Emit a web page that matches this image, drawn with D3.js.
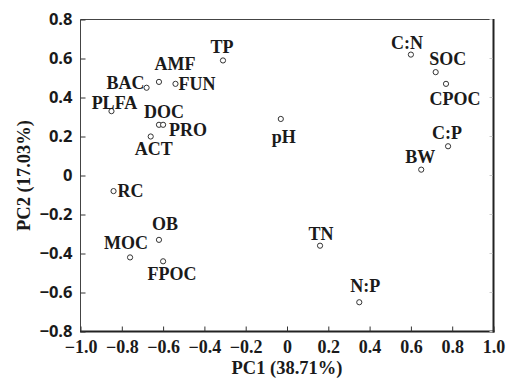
<!DOCTYPE html>
<html><head><meta charset="utf-8">
<script src="https://cdn.jsdelivr.net/npm/d3@7"></script>
<style>
html,body{margin:0;padding:0;background:#fff;}
svg{display:block;}
</style></head>
<body>
<svg id="chart" width="513" height="380"></svg>
<script>
// ---- data ----
const variables = ["TP","AMF","BAC","FUN","PLFA","DOC","PRO","ACT","pH","C:N","SOC","CPOC","C:P","BW","RC","OB","MOC","FPOC","TN","N:P"];
const pc1 = [-0.31,-0.62,-0.68,-0.54,-0.85,-0.62,-0.60,-0.66,-0.03,0.60,0.72,0.77,0.78,0.65,-0.84,-0.62,-0.76,-0.60,0.16,0.35];
const pc2 = [0.59,0.48,0.45,0.47,0.33,0.26,0.26,0.20,0.29,0.62,0.53,0.47,0.15,0.03,-0.08,-0.33,-0.42,-0.44,-0.36,-0.65];
const xTicks = [-1.0,-0.8,-0.6,-0.4,-0.2,0,0.2,0.4,0.6,0.8,1.0];
const xTickLabels = ["\u22121.0","\u22120.8","\u22120.6","\u22120.4","\u22120.2","0","0.2","0.4","0.6","0.8","1.0"];
const yTicks = [0.8,0.6,0.4,0.2,0,-0.2,-0.4,-0.6,-0.8];
const yTickLabels = ["0.8","0.6","0.4","0.2","0","\u22120.2","\u22120.4","\u22120.6","\u22120.8"];
const xTitle = "PC1 (38.71%)";
const yTitle = "PC2 (17.03%)";

// ---- label placement (layout only): [dx, dy, anchor] relative to point ----
const labelPlace = {
  "TP":[-1,-13,"middle"], "AMF":[16,-18,"middle"], "BAC":[-2,-5,"end"], "FUN":[3,0,"start"],
  "PLFA":[3,-8,"middle"], "DOC":[5,-13,"middle"], "PRO":[6,5,"start"], "ACT":[3,13,"middle"],
  "pH":[3,18,"middle"], "C:N":[-4,-12,"middle"], "SOC":[12,-13,"middle"], "CPOC":[9,15,"middle"],
  "C:P":[-1,-13,"middle"], "BW":[-1,-13,"middle"], "RC":[4,0,"start"], "OB":[6,-15.5,"middle"],
  "MOC":[-4,-14,"middle"], "FPOC":[9,13,"middle"], "TN":[1,-12,"middle"], "N:P":[6,-16,"middle"]
};

const svg = d3.select("#chart");
const L = 80.5, R = 493.5, T = 19.5, B = 331.5;
const x = d3.scaleLinear().domain([-1,1]).range([L,R]);
const y = d3.scaleLinear().domain([-0.8,0.8]).range([B,T]);

const serif = "'Liberation Serif', 'Times New Roman', serif";
const sans = "'Open Sans', 'Noto Sans', sans-serif";
const ink = "#1a1a1a";

// frame: top/left thin, right/bottom heavier
svg.append("line").attr("x1",L).attr("x2",R).attr("y1",T).attr("y2",T).attr("stroke","#444").attr("stroke-width",1);
svg.append("line").attr("x1",L).attr("x2",L).attr("y1",T).attr("y2",B).attr("stroke","#444").attr("stroke-width",1);
svg.append("line").attr("x1",R).attr("x2",R).attr("y1",T-0.5).attr("y2",B+1).attr("stroke","#222").attr("stroke-width",2);
svg.append("line").attr("x1",L-0.5).attr("x2",R+1).attr("y1",B).attr("y2",B).attr("stroke","#222").attr("stroke-width",2);

// axes with inward ticks
const xAxis = d3.axisBottom(x).tickValues(xTicks).tickSize(-5).tickPadding(9)
  .tickFormat((d,i)=>xTickLabels[i]);
const gx = svg.append("g").attr("transform",`translate(0,${B})`).call(xAxis);
gx.select(".domain").remove();
gx.selectAll(".tick line").attr("stroke","#333").attr("stroke-width",1);
gx.selectAll(".tick text").attr("fill",ink).style("font-family",serif).style("font-weight","bold").style("font-size","18px");

const yAxis = d3.axisLeft(y).tickValues(yTicks).tickSize(-5).tickPadding(8)
  .tickFormat((d,i)=>yTickLabels[i]);
const gy = svg.append("g").attr("transform",`translate(${L},0)`).call(yAxis);
gy.select(".domain").remove();
gy.selectAll(".tick line").attr("stroke","#333").attr("stroke-width",1);
gy.selectAll(".tick text").attr("fill",ink).style("font-family",sans).style("font-weight","bold").style("font-size","16.5px");

// faint right ticks
svg.append("g").selectAll("line").data(yTicks).join("line")
  .attr("x1",R-1).attr("x2",R-4).attr("y1",d=>y(d)).attr("y2",d=>y(d))
  .attr("stroke","#ccc").attr("stroke-width",1);

// titles
svg.append("text").attr("x",(L+R)/2).attr("y",374).attr("text-anchor","middle")
  .style("font-family",serif).style("font-weight","bold").style("font-size","18.5px").attr("fill",ink).text(xTitle);
svg.append("text").attr("transform",`translate(30,${(T+B)/2}) rotate(-90)`).attr("text-anchor","middle")
  .style("font-family",serif).style("font-weight","bold").style("font-size","18.5px").attr("fill",ink).text(yTitle);

// points
const pts = variables.map((v,i)=>({name:v, x:pc1[i], y:pc2[i]}));
svg.append("g").selectAll("circle").data(pts).join("circle")
  .attr("cx",d=>x(d.x)).attr("cy",d=>y(d.y)).attr("r",2.6)
  .attr("fill","#fff").attr("stroke","#333").attr("stroke-width",1);

svg.append("g").selectAll("text").data(pts).join("text")
  .attr("x",d=>x(d.x)+labelPlace[d.name][0])
  .attr("y",d=>y(d.y)+labelPlace[d.name][1])
  .attr("dy","0.33em")
  .attr("text-anchor",d=>labelPlace[d.name][2])
  .style("font-family",serif).style("font-weight","bold").style("font-size","18px")
  .attr("fill",ink).text(d=>d.name);
</script>
</body></html>
